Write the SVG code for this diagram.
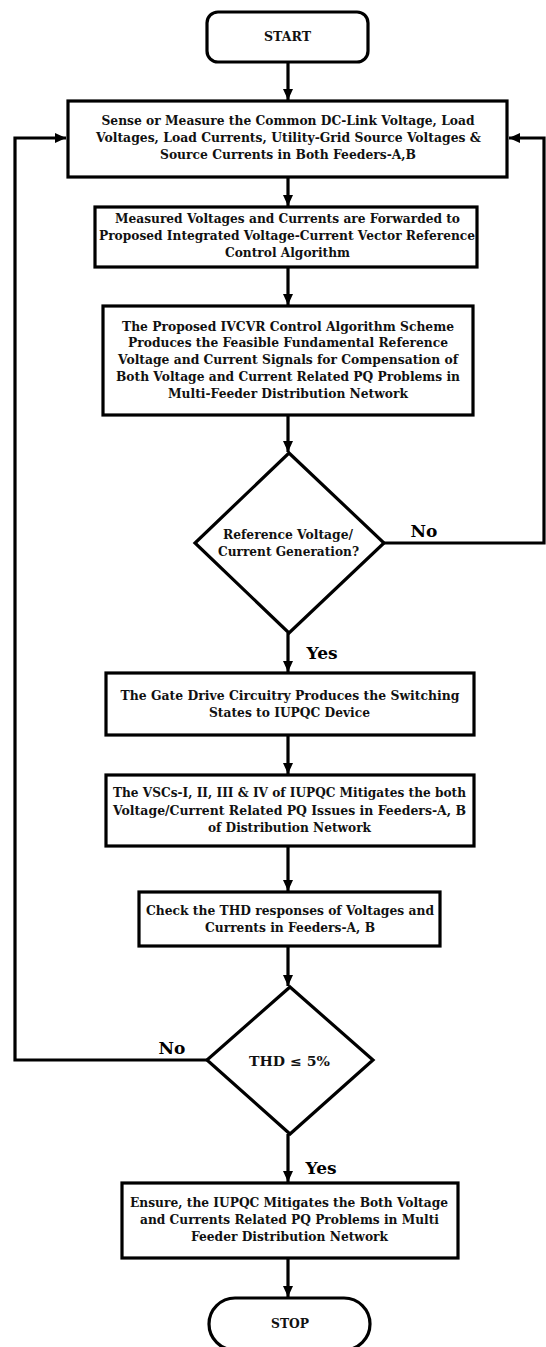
<svg xmlns="http://www.w3.org/2000/svg" width="546" height="1347" viewBox="0 0 546 1347">
<style>
.box{fill:#fff;stroke:#000;stroke-width:3.2}
.ln{fill:none;stroke:#000;stroke-width:3.2}
.t{font-family:"DejaVu Serif","Liberation Serif",serif;font-weight:bold;font-size:12.5px;fill:#111;text-anchor:middle}
.d{font-size:12px}
.lbl{font-family:"DejaVu Serif","Liberation Serif",serif;font-weight:bold;font-size:17px;fill:#000;text-anchor:middle}
</style>
<defs>
<marker id="ah" markerUnits="userSpaceOnUse" markerWidth="12" markerHeight="12" viewBox="0 0 12 12" refX="11" refY="6" orient="auto">
<path d="M0,1 L11,6 L0,11 Z" fill="#000"/>
</marker>
</defs>
<rect width="546" height="1347" fill="#fff"/>
<g id="connectors">
<line class="ln" x1="288" y1="62" x2="288" y2="100" marker-end="url(#ah)"/>
<line class="ln" x1="288" y1="177" x2="288" y2="206" marker-end="url(#ah)"/>
<line class="ln" x1="288" y1="267" x2="288" y2="305" marker-end="url(#ah)"/>
<line class="ln" x1="288" y1="415" x2="288" y2="452" marker-end="url(#ah)"/>
<line class="ln" x1="288" y1="633" x2="288" y2="672" marker-end="url(#ah)"/>
<line class="ln" x1="288" y1="735" x2="288" y2="774" marker-end="url(#ah)"/>
<line class="ln" x1="288" y1="846" x2="288" y2="891" marker-end="url(#ah)"/>
<line class="ln" x1="288" y1="946" x2="288" y2="986" marker-end="url(#ah)"/>
<line class="ln" x1="288" y1="1134" x2="288" y2="1182" marker-end="url(#ah)"/>
<line class="ln" x1="288" y1="1258" x2="288" y2="1297" marker-end="url(#ah)"/>
<polyline class="ln" points="384,543 544,543 544,138 509,138" marker-end="url(#ah)"/>
<polyline class="ln" points="207,1060 15,1060 15,138 66,138" marker-end="url(#ah)"/>
<text class="lbl" x="424" y="537">No</text>
<text class="lbl" x="322" y="659">Yes</text>
<text class="lbl" x="172" y="1054">No</text>
<text class="lbl" x="321" y="1174">Yes</text>
</g>
<g id="start">
<rect class="box" x="207" y="12" width="161" height="50" rx="11"/>
<text class="t" x="287.5" y="41" font-size="11.5" textLength="47" lengthAdjust="spacingAndGlyphs">START</text>
</g>
<g id="sense">
<rect class="box" x="68" y="101" width="439" height="76"/>
<text class="t" x="288" y="125" textLength="373" lengthAdjust="spacingAndGlyphs">Sense or Measure the Common DC-Link Voltage, Load</text>
<text class="t" x="288.5" y="142" textLength="385" lengthAdjust="spacingAndGlyphs">Voltages, Load Currents, Utility-Grid Source Voltages &amp;</text>
<text class="t" x="288" y="159" textLength="256" lengthAdjust="spacingAndGlyphs">Source Currents in Both Feeders-A,B</text>
</g>
<g id="forward">
<rect class="box" x="95" y="207" width="382" height="60"/>
<text class="t" x="287.5" y="223" textLength="345" lengthAdjust="spacingAndGlyphs">Measured Voltages and Currents are Forwarded to</text>
<text class="t" x="287" y="240" textLength="376" lengthAdjust="spacingAndGlyphs">Proposed Integrated Voltage-Current Vector Reference</text>
<text class="t" x="287.5" y="257" textLength="125" lengthAdjust="spacingAndGlyphs">Control Algorithm</text>
</g>
<g id="ivcvr">
<rect class="box" x="103" y="306" width="370" height="109"/>
<text class="t" x="288" y="331" textLength="332" lengthAdjust="spacingAndGlyphs">The Proposed IVCVR Control Algorithm Scheme</text>
<text class="t" x="288" y="347" textLength="320" lengthAdjust="spacingAndGlyphs">Produces the Feasible Fundamental Reference</text>
<text class="t" x="288" y="364" textLength="340" lengthAdjust="spacingAndGlyphs">Voltage and Current Signals for Compensation of</text>
<text class="t" x="288" y="381" textLength="344" lengthAdjust="spacingAndGlyphs">Both Voltage and Current Related PQ Problems in</text>
<text class="t" x="288" y="398" textLength="240" lengthAdjust="spacingAndGlyphs">Multi-Feeder Distribution Network</text>
</g>
<g id="refgen">
<polygon class="box" points="289,453 384,543 289,633 195,543"/>
<text class="t d" x="288" y="539" textLength="130" lengthAdjust="spacingAndGlyphs">Reference Voltage/</text>
<text class="t d" x="288.5" y="556" textLength="141" lengthAdjust="spacingAndGlyphs">Current Generation?</text>
</g>
<g id="gate">
<rect class="box" x="106" y="673" width="368" height="62"/>
<text class="t" x="290" y="700" textLength="339" lengthAdjust="spacingAndGlyphs">The Gate Drive Circuitry Produces the Switching</text>
<text class="t" x="289.5" y="717" textLength="161" lengthAdjust="spacingAndGlyphs">States to IUPQC Device</text>
</g>
<g id="vscs">
<rect class="box" x="106" y="775" width="368" height="71"/>
<text class="t" x="289.5" y="797" textLength="353" lengthAdjust="spacingAndGlyphs">The VSCs-I, II, III &amp; IV of IUPQC Mitigates the both</text>
<text class="t" x="289.5" y="815" textLength="353" lengthAdjust="spacingAndGlyphs">Voltage/Current Related  PQ Issues in Feeders-A, B</text>
<text class="t" x="289.5" y="832" textLength="163" lengthAdjust="spacingAndGlyphs">of Distribution Network</text>
</g>
<g id="thdcheck">
<rect class="box" x="139" y="892" width="301" height="54"/>
<text class="t" x="290" y="915" textLength="288" lengthAdjust="spacingAndGlyphs">Check the THD responses of Voltages and</text>
<text class="t" x="290" y="932" textLength="170" lengthAdjust="spacingAndGlyphs">Currents in Feeders-A, B</text>
</g>
<g id="thd">
<polygon class="box" points="290,987 373,1060 290,1134 207,1060"/>
<text class="t" x="289.5" y="1066" font-size="13.5" textLength="81" lengthAdjust="spacingAndGlyphs">THD ≤ 5%</text>
</g>
<g id="ensure">
<rect class="box" x="122" y="1183" width="336" height="75"/>
<text class="t" x="289" y="1207" textLength="318" lengthAdjust="spacingAndGlyphs">Ensure, the IUPQC Mitigates the Both Voltage</text>
<text class="t" x="289.5" y="1224" textLength="299" lengthAdjust="spacingAndGlyphs">and Currents Related PQ Problems in Multi</text>
<text class="t" x="289.5" y="1241" textLength="197" lengthAdjust="spacingAndGlyphs">Feeder Distribution Network</text>
</g>
<g id="stop">
<rect class="box" x="209" y="1298" width="161" height="52" rx="26"/>
<text class="t" x="290" y="1328" font-size="11.5" textLength="38" lengthAdjust="spacingAndGlyphs">STOP</text>
</g>
</svg>
